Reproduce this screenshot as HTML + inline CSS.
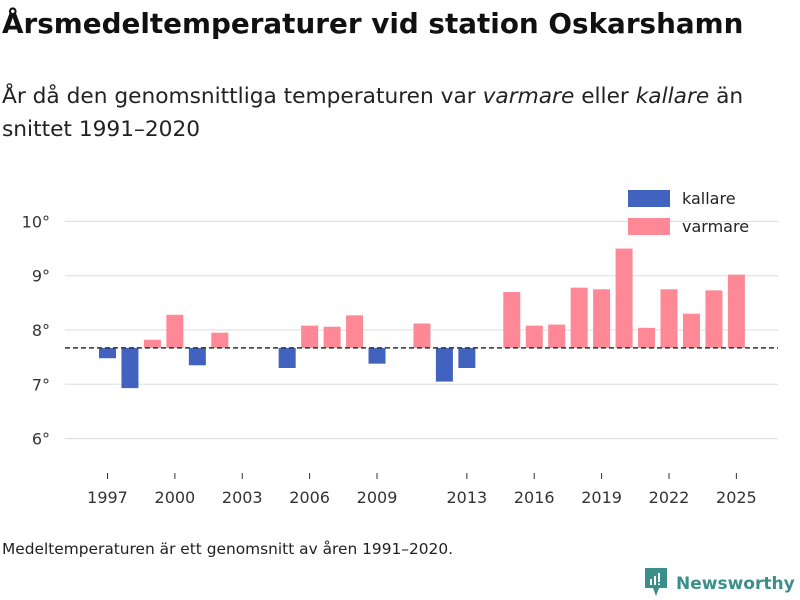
<!DOCTYPE html>
<html><head><meta charset="utf-8"><style>
body{margin:0;width:800px;height:600px;background:#fff;font-family:"DejaVu Sans",sans-serif;color:#111;position:relative;overflow:hidden}
#t{position:absolute;left:2px;top:7px;font-size:27.8px;font-weight:bold;margin:0;white-space:nowrap}
#s{position:absolute;left:2px;top:80px;font-size:21.7px;line-height:33px;color:#222;white-space:nowrap}
#n{position:absolute;left:2px;top:540px;font-size:15.4px;color:#222;white-space:nowrap}
#logo{position:absolute;left:645px;top:568px;font-size:17px;color:#3a8f8a;font-weight:bold;white-space:nowrap}
</style></head><body>
<h1 id="t">Årsmedeltemperaturer vid station Oskarshamn</h1>
<div id="s">År då den genomsnittliga temperaturen var <i>varmare</i> eller <i>kallare</i> än<br>snittet 1991–2020</div>
<svg id="c" width="800" height="600" style="position:absolute;left:0;top:0"></svg>
<div id="n">Medeltemperaturen är ett genomsnitt av åren 1991–2020.</div>
<div id="logo"><svg width="22" height="28" style="vertical-align:-7px;margin-right:9px"><path d="M0 0h22v20h-8l-3 8-3-8H0z" fill="#3a8f8a"/><rect x="5" y="11" width="2" height="6" fill="#fff"/><rect x="9" y="8" width="2" height="9" fill="#fff"/><rect x="13" y="5" width="2" height="9" fill="#fff"/><rect x="13" y="15.5" width="2" height="1.5" fill="#fff"/></svg>Newsworthy</div>
<script>
const years=[1997,1998,1999,2000,2001,2002,2005,2006,2007,2008,2009,2011,2012,2013,2015,2016,2017,2018,2019,2020,2021,2022,2023,2024,2025];
const temps=[7.48,6.93,7.82,8.28,7.35,7.95,7.3,8.08,8.06,8.27,7.38,8.12,7.05,7.3,8.7,8.08,8.1,8.78,8.75,9.5,8.04,8.75,8.3,8.73,9.02];
const baseline=7.67;
const yTicks=[6,7,8,9,10];
const xTicks=[1997,2000,2003,2006,2009,2013,2016,2019,2022,2025];
const ns="http://www.w3.org/2000/svg",svg=document.getElementById('c');
const x=v=>107.5+(v-1997)*22.46, y=v=>330-(v-8)*54.3;
function mk(t,a,p){const e=document.createElementNS(ns,t);for(const k in a)e.setAttribute(k,a[k]);(p||svg).appendChild(e);return e;}
yTicks.forEach(v=>{const g=mk('line',{x1:65,x2:778,y1:y(v),y2:y(v),stroke:'#ddd','stroke-width':1});

const t=mk('text',{x:50,y:y(v)+6,'text-anchor':'end','font-size':16,fill:'#333','font-family':'DejaVu Sans'});t.textContent=v+'°';
});
xTicks.forEach(v=>{const l=mk('line',{x1:x(v),x2:x(v),y1:473,y2:479,stroke:'#333'});

const t=mk('text',{x:x(v),y:503,'text-anchor':'middle','font-size':16,fill:'#333','font-family':'DejaVu Sans'});t.textContent=v;
});
years.forEach((yr,i)=>{const v=temps[i],top=Math.min(y(v),y(baseline)),h=Math.abs(y(v)-y(baseline));
const r=mk('rect',{x:x(yr)-8.5,y:top,width:17,height:h,fill:v>baseline?'#ff8896':'#4262c0'});
});
const b=mk('line',{x1:65,x2:778,y1:y(baseline),y2:y(baseline),stroke:'#333','stroke-width':1.5,'stroke-dasharray':'5,3'});

[['kallare','#4262c0',190],['varmare','#ff8896',218]].forEach(([n,c,yy])=>{
const g=mk('g',{});
mk('rect',{x:628,y:yy,width:42,height:17,fill:c},g);
const t=mk('text',{x:682,y:yy+14,'font-size':16,fill:'#222','font-family':'DejaVu Sans'},g);t.textContent=n;});
</script>
</body></html>
